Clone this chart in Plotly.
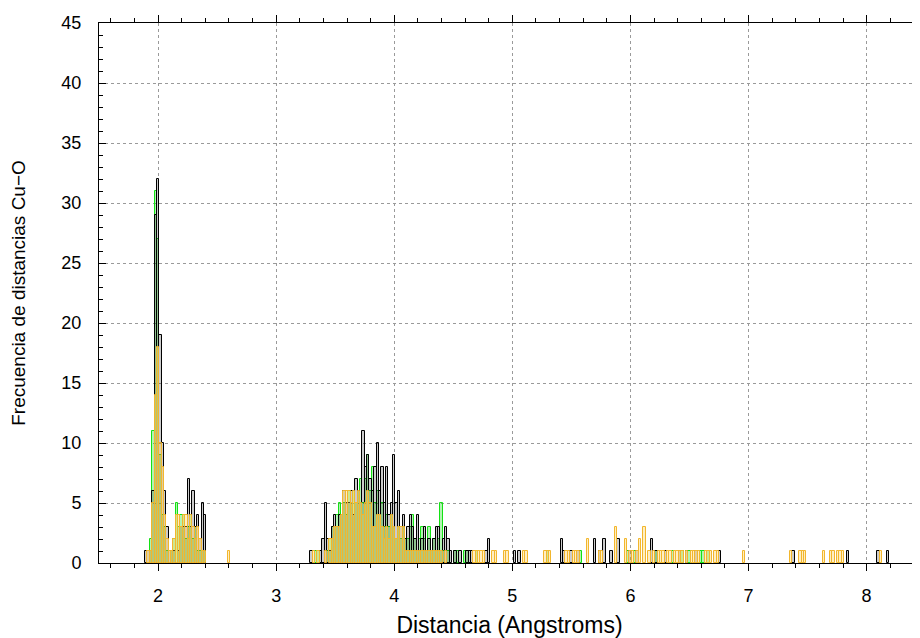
import plotly.graph_objects as go

BIN_WIDTH = 0.02

# ---- series: black (counts per 0.02 A bin, bin centres) ----
black_x = [1.90, 1.92, 1.94, 1.96, 1.98, 2.00, 2.02, 2.04, 2.06, 2.08, 2.10, 2.12, 2.14,
           2.18, 2.20, 2.22, 2.24, 2.26, 2.28, 2.30, 2.32, 2.34, 2.36, 2.38, 2.40,
           3.30, 3.38, 3.40, 3.42, 3.44, 3.46, 3.48, 3.50, 3.52, 3.54, 3.56, 3.58, 3.60,
           3.62, 3.64, 3.66, 3.68, 3.70, 3.72, 3.74, 3.76, 3.78, 3.80, 3.82, 3.84, 3.86,
           3.88, 3.90, 3.92, 3.94, 3.96, 3.98, 4.00, 4.02, 4.04, 4.06, 4.08, 4.10, 4.12,
           4.14, 4.16, 4.18, 4.20, 4.22, 4.24, 4.26, 4.28, 4.30, 4.32, 4.34, 4.36, 4.38,
           4.40, 4.42, 4.44, 4.46, 4.48, 4.52, 4.56, 4.62, 4.64, 4.66, 4.78, 4.80, 5.02,
           5.06, 5.42, 5.44, 5.50, 5.56, 5.70, 5.74, 5.78, 5.84, 5.90, 6.00, 6.06, 6.18,
           6.22, 6.30, 6.42, 6.48, 6.56, 6.76, 7.38, 7.84, 8.10, 8.18]
black_y = [1, 1, 1, 6, 29, 32, 19, 10, 6, 3, 1, 1, 1,
           1, 3, 3, 3, 7, 3, 6, 3, 4, 2, 5, 4,
           1, 1, 2, 5, 2, 1, 3, 4, 3, 4, 4, 6, 5,
           5, 6, 4, 7, 6, 5, 11, 8, 9, 7, 6, 8, 10,
           6, 8, 5, 8, 4, 5, 9, 5, 6, 3, 4, 2, 3,
           4, 3, 2, 4, 1, 2, 3, 1, 2, 1, 2, 3, 3,
           1, 2, 3, 2, 1, 1, 1, 1, 1, 1, 1, 2, 1,
           1, 2, 1, 1, 1, 2, 1, 2, 1, 2, 1, 1, 2,
           1, 1, 1, 1, 1, 1, 1, 1, 1, 1]

# ---- series: green ----
green_x = [1.94, 1.96, 1.98, 2.00, 2.02, 2.04, 2.06, 2.08, 2.12, 2.14, 2.16, 2.18, 2.20,
           2.22, 2.24, 2.26, 2.28, 2.30, 2.32, 2.34, 2.36, 2.38, 2.40,
           3.34, 3.36, 3.44, 3.46, 3.48, 3.50, 3.52, 3.54, 3.56, 3.58, 3.60, 3.62, 3.64,
           3.66, 3.68, 3.70, 3.72, 3.74, 3.76, 3.78, 3.80, 3.82, 3.84, 3.86, 3.88, 3.90,
           3.92, 3.94, 3.96, 3.98, 4.00, 4.02, 4.04, 4.06, 4.08, 4.10, 4.12, 4.14, 4.16,
           4.18, 4.20, 4.22, 4.24, 4.26, 4.28, 4.30, 4.32, 4.34, 4.36, 4.38, 4.40, 4.42,
           4.46, 4.52, 4.54, 4.60, 4.62, 4.70, 5.30, 5.58, 5.98, 6.04, 6.22, 6.36, 6.44,
           6.50, 6.60, 6.62, 6.66]
green_y = [2, 11, 31, 27, 9, 4, 3, 1, 1, 2, 5, 3, 4,
           4, 2, 3, 4, 2, 3, 1, 1, 1, 1,
           1, 1, 1, 2, 3, 3, 4, 5, 4, 5, 4, 6, 5,
           6, 5, 6, 7, 5, 7, 9, 6, 8, 5, 6, 4, 5,
           3, 4, 3, 4, 3, 2, 3, 2, 3, 2, 2, 3, 4,
           2, 1, 2, 3, 2, 1, 3, 1, 2, 1, 2, 5, 1,
           1, 1, 1, 1, 1, 1, 1, 1, 1, 1, 1, 1, 1,
           1, 1, 1, 1]

# ---- series: orange ----
orange_x = [1.92, 1.94, 1.96, 1.98, 2.00, 2.02, 2.04, 2.06, 2.08, 2.10, 2.12, 2.14, 2.16,
            2.18, 2.20, 2.22, 2.24, 2.26, 2.28, 2.30, 2.32, 2.34, 2.36, 2.38, 2.40, 2.60,
            3.32, 3.36, 3.42, 3.46, 3.48, 3.50, 3.52, 3.54, 3.56, 3.58, 3.60, 3.62, 3.64,
            3.66, 3.68, 3.70, 3.72, 3.74, 3.76, 3.78, 3.80, 3.82, 3.84, 3.86, 3.88, 3.90,
            3.92, 3.94, 3.96, 3.98, 4.00, 4.02, 4.04, 4.06, 4.08, 4.10, 4.12, 4.14, 4.16,
            4.18, 4.20, 4.22, 4.24, 4.26, 4.28, 4.30, 4.32, 4.34, 4.36, 4.38, 4.40, 4.44,
            4.68, 4.70, 4.72, 4.74, 4.76, 4.84, 4.86, 4.94, 4.96, 5.10, 5.12, 5.28, 5.30,
            5.32, 5.46, 5.48, 5.52, 5.54, 5.56, 5.64, 5.74, 5.76, 5.88, 5.96, 6.00, 6.02,
            6.06, 6.08, 6.12, 6.16, 6.20, 6.24, 6.26, 6.28, 6.32, 6.34, 6.38, 6.40, 6.42,
            6.44, 6.48, 6.52, 6.54, 6.56, 6.58, 6.64, 6.66, 6.68, 6.72, 6.74, 6.96, 7.36,
            7.44, 7.46, 7.48, 7.64, 7.70, 7.72, 7.76, 7.78, 7.80, 8.12]
orange_y = [1, 1, 5, 14, 18, 10, 8, 4, 2, 1, 1, 2, 4,
            4, 3, 4, 4, 2, 4, 3, 2, 3, 2, 1, 1, 1,
            1, 1, 1, 2, 2, 3, 3, 3, 4, 6, 6, 6, 5,
            6, 5, 6, 5, 4, 5, 6, 5, 3, 3, 4, 4, 3,
            2, 3, 2, 4, 3, 2, 3, 3, 3, 1, 1, 1, 1,
            1, 1, 1, 1, 1, 1, 1, 1, 1, 1, 1, 1, 1,
            1, 1, 1, 1, 1, 1, 1, 1, 1, 1, 1, 1, 1,
            1, 1, 1, 1, 1, 1, 2, 1, 1, 3, 2, 1, 1,
            1, 2, 3, 1, 1, 1, 1, 1, 1, 1, 1, 1, 1,
            1, 1, 1, 1, 1, 1, 1, 1, 1, 1, 1, 1, 1,
            1, 1, 1, 1, 1, 1, 1, 1, 1, 1]

x_tick_vals = [2, 3, 4, 5, 6, 7, 8]
y_tick_vals = [0, 5, 10, 15, 20, 25, 30, 35, 40, 45]

FONT = "Liberation Sans, Arial, Helvetica, sans-serif"

fig = go.Figure()
series = [
    (green_x, green_y, "rgba(0,220,0,0.30)", "rgb(20,225,20)"),
    (black_x, black_y, "rgba(0,0,0,0.20)", "rgb(0,0,0)"),
    (orange_x, orange_y, "rgba(255,205,80,0.35)", "rgb(242,182,45)"),
]
for xs, ys, fill, line in series:
    fig.add_trace(go.Bar(
        x=xs, y=ys, width=BIN_WIDTH,
        marker=dict(color=fill, line=dict(color=line, width=1)),
        showlegend=False, hoverinfo="x+y",
    ))

# the page body adds an 8 px margin, so the figure is laid out 8 px up/left
fig.update_layout(
    width=920, height=638,
    margin=dict(l=91, r=8, t=15, b=83),
    plot_bgcolor="white", paper_bgcolor="white",
    barmode="overlay", bargap=0,
    font=dict(family=FONT, size=18, color="black"),
)
fig.update_xaxes(
    range=[1.5, 8.452], automargin=False,
    tickvals=x_tick_vals, ticktext=[str(v) for v in x_tick_vals],
    ticks="outside", ticklen=7, tickwidth=1, tickcolor="black",
    minor=dict(dtick=0.2, tick0=0, ticks="outside", ticklen=4, tickcolor="black", showgrid=False),
    showline=True, linecolor="black", linewidth=1, mirror="ticks",
    showgrid=True, gridcolor="#9a9a9a", griddash="dot", gridwidth=1,
    zeroline=False,
    ticklabelstandoff=9,
    title=dict(text="Distancia (Angstroms)", font=dict(size=23), standoff=12),
)
fig.update_yaxes(
    range=[0, 45], automargin=False,
    tickvals=y_tick_vals, ticktext=[str(v) for v in y_tick_vals],
    ticks="inside", ticklen=7, tickwidth=1, tickcolor="black",
    minor=dict(dtick=1, tick0=0, ticks="inside", ticklen=4, tickcolor="black", showgrid=False),
    showline=True, linecolor="black", linewidth=1, mirror="ticks",
    showgrid=True, gridcolor="#9a9a9a", griddash="dot", gridwidth=1,
    zeroline=False,
    ticklabelstandoff=13,
    title=dict(text="Frecuencia de distancias Cu−O", font=dict(size=19), standoff=30),
)

fig.write_html("out.html")
